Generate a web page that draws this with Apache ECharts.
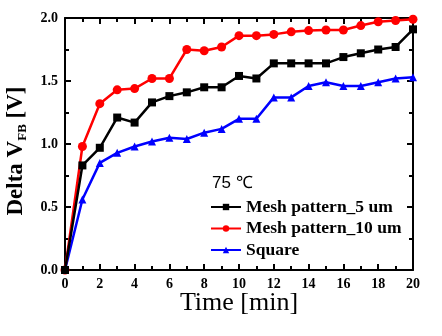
<!DOCTYPE html>
<html><head><meta charset="utf-8">
<script src="https://cdn.jsdelivr.net/npm/echarts@6/dist/echarts.min.js"></script>
<style>html,body{margin:0;padding:0;background:#fff}#c{width:442px;height:336px}</style>
</head><body><div id="c"></div>
<script>
var times = [0,1,2,3,4,5,6,7,8,9,10,11,12,13,14,15,16,17,18,19,20];
var mesh5 = [0,0.83,0.97,1.21,1.17,1.33,1.38,1.41,1.45,1.45,1.54,1.52,1.64,1.64,1.64,1.64,1.69,1.72,1.75,1.77,1.91];
var mesh10 = [0,0.98,1.32,1.43,1.44,1.52,1.52,1.75,1.74,1.77,1.86,1.86,1.87,1.89,1.90,1.905,1.905,1.94,1.97,1.98,1.99];
var square = [0,0.56,0.85,0.93,0.98,1.02,1.05,1.04,1.09,1.12,1.20,1.20,1.37,1.37,1.46,1.49,1.46,1.46,1.49,1.52,1.53];
var seriesNames = ['Mesh pattern_5 um','Mesh pattern_10 um','Square'];
var annotation = '75 \u2103';

function pairs(ys){return times.map(function(t,i){return [t,ys[i]];});}
var serif = '"Liberation Serif","Times New Roman",serif';
var chart = echarts.init(document.getElementById('c'));
var axisLineStyle = {color:'#000', width:2};
var tickCol = '#000';
function mkX(pos, labels){
  return {type:'value', position:pos, min:0, max:20, interval:2,
    axisLine:{show:true, onZero:false, lineStyle:axisLineStyle},
    axisTick:{show:true, inside:true, length:6, lineStyle:{color:tickCol,width:2}},
    minorTick:{show:true, splitNumber:2, length:4, lineStyle:{color:tickCol,width:2}},
    splitLine:{show:false}, minorSplitLine:{show:false},
    axisLabel:{show:labels, color:'#000', fontFamily:serif, fontWeight:'bold', fontSize:14, margin:7},
    name: labels ? 'Time [min]' : '', nameLocation:'middle', nameGap:20, nameMoveOverlap:false,
    nameTextStyle:{color:'#000', fontFamily:serif, fontSize:26}
  };
}
function mkY(pos, labels){
  return {type:'value', position:pos, min:0, max:2, interval:0.5,
    axisLine:{show:true, onZero:false, lineStyle:axisLineStyle},
    axisTick:{show:true, inside:true, length:6, lineStyle:{color:tickCol,width:2}},
    minorTick:{show:true, splitNumber:2, length:4, lineStyle:{color:tickCol,width:2}},
    splitLine:{show:false}, minorSplitLine:{show:false},
    axisLabel:{show:labels, color:'#000', fontFamily:serif, fontWeight:'bold', fontSize:14, margin:7,
      formatter:function(v){return v.toFixed(1);}},
    name: labels ? '{a|Delta V}{b|FB}{a| [V]}' : '', nameLocation:'middle', nameGap:36,
    nameTextStyle:{color:'#000', padding:[0,0,0,-14], rich:{
      a:{fontFamily:serif, fontWeight:'bold', fontSize:23, color:'#000'},
      b:{fontFamily:serif, fontWeight:'bold', fontSize:13, color:'#000', padding:[12,0,0,0]}
    }}
  };
}
var colors = ['#000000','#ff0000','#0000ff'];
var symbols = ['rect','circle','triangle'];
var datas = [mesh5, mesh10, square];
chart.setOption({
  animation:false,
  grid:{left:65, right:29, top:18, bottom:66, outerBoundsMode:'none'},
  xAxis:[mkX('bottom',true), mkX('top',false)],
  yAxis:[mkY('left',true), mkY('right',false)],
  legend:{orient:'vertical', left:205, top:193, itemWidth:30, itemHeight:8, itemGap:3.5, padding:[5,5,5,5],
    data:seriesNames,
    textStyle:{color:'#000', fontFamily:serif, fontWeight:'bold', fontSize:17.5}},
  graphic:[{type:'text', left:212, top:175, style:{text:annotation, fontFamily:'"Liberation Sans",Arial,sans-serif', fontSize:17, fill:'#000'}}],
  series: datas.map(function(d,i){
    return {type:'line', name:seriesNames[i], data:pairs(d), xAxisIndex:0, yAxisIndex:0,
      symbol:symbols[i], symbolSize: i===1 ? 9 : 8, showAllSymbol:true,
      lineStyle:{color:colors[i], width:2.5}, itemStyle:{color:colors[i]}, z: 3-i};
  })
});
</script></body></html>
